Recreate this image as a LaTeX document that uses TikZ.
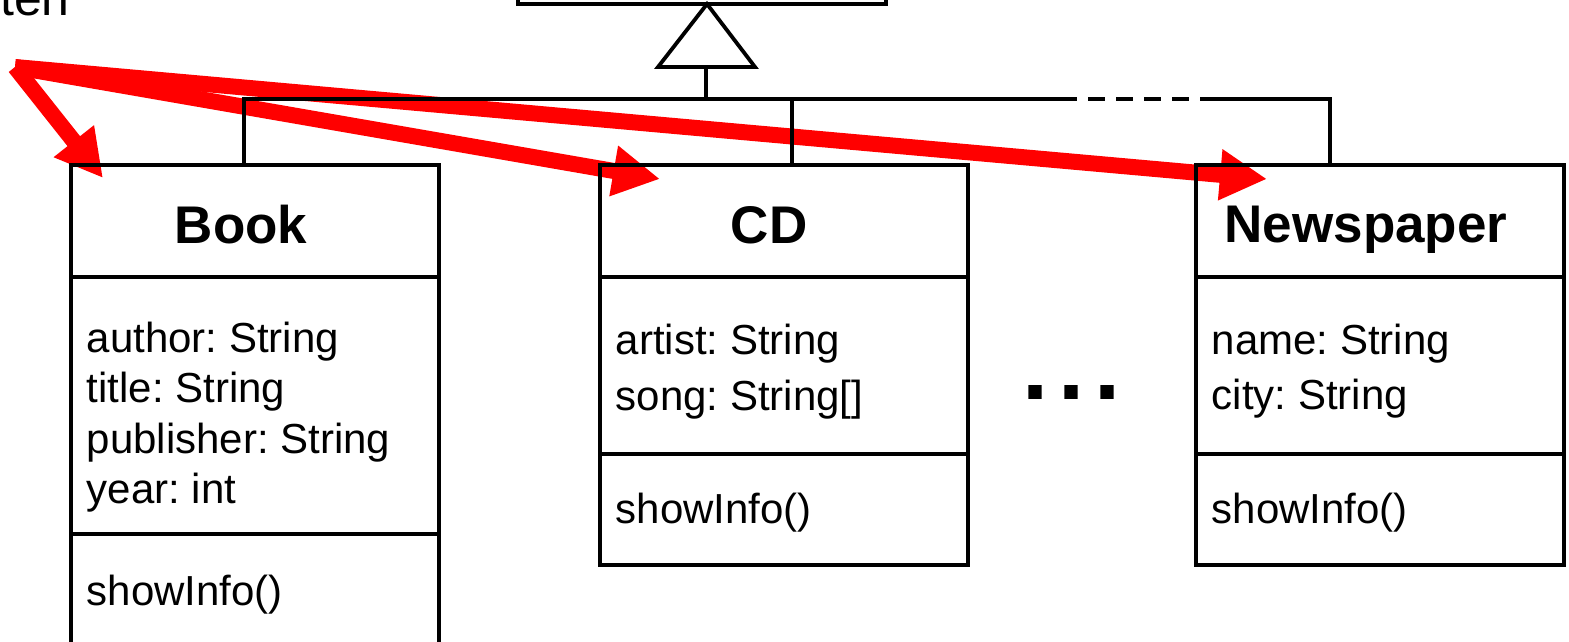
\documentclass[tikz,border=0pt]{standalone}
\usepackage{fontspec}
\setmainfont{Liberation Sans}
\usetikzlibrary{arrows.meta,calc}
\pgfdeclarelayer{pointers}
\pgfsetlayers{pointers,main}
\begin{document}
\frenchspacing
\begin{tikzpicture}[x=1pt,y=-1pt,
  compartment/.style={draw=black,line width=3.8pt,rectangle,inner sep=0pt,
    anchor=north west,minimum width=368pt},
  classname/.style={font=\bfseries\fontsize{53}{60}\selectfont,anchor=base,inner sep=0pt},
  member/.style={font=\fontsize{42}{50}\selectfont,anchor=base west,inner sep=0pt},
  tree/.style={draw=black,line width=3.8pt},
  treedash/.style={tree,dash pattern=on 17pt off 11pt},
  pointer/.style={draw=red,line width=16pt,-{Triangle[length=47pt,width=48pt]}},
  ellipsis/.style={font=\bfseries\fontsize{94}{100}\selectfont,anchor=base,inner sep=0pt}
]
\useasboundingbox (0,0) rectangle (1569,641);
\clip (0,0) rectangle (1569,641);

% superclass box (only its lower edge is in view)
\node[compartment,minimum height=80pt] (super) at (516,-78) {};

% Book
\node[compartment,minimum height=112pt] (bookT) at (69,163) {};
\node[compartment,minimum height=257pt] (bookA) at (69,275) {};
\node[compartment,minimum height=140pt] (bookO) at (69,532) {};
\node[classname] (bookN) at (241,243) {Book};
\node[member] (b1) at (86.5,352) {author: String};
\node[member] (b2) at (86.5,402) {title: String};
\node[member] (b3) at (86.5,453) {publisher: String};
\node[member] (b4) at (86.5,503) {year: int};
\node[member] (b5) at (86.5,605) {showInfo()};

% CD
\node[compartment,minimum height=112pt] (cdT) at (598,163) {};
\node[compartment,minimum height=177pt] (cdA) at (598,275) {};
\node[compartment,minimum height=111pt] (cdO) at (598,452) {};
\node[classname] (cdN) at (769,243) {CD};
\node[member] (c1) at (615.5,354) {artist: String};
\node[member] (c2) at (615.5,410) {song: String[]};
\node[member] (c3) at (615.5,523) {showInfo()};

% Newspaper
\node[compartment,minimum height=112pt] (newsT) at (1194,163) {};
\node[compartment,minimum height=177pt] (newsA) at (1194,275) {};
\node[compartment,minimum height=111pt] (newsO) at (1194,452) {};
\node[classname] (newsN) at (1366,242) {Newspaper};
\node[member] (n1) at (1211.5,354) {name: String};
\node[member] (n2) at (1211.5,409) {city: String};
\node[member] (n3) at (1211.5,523) {showInfo()};

% further subclasses
\node[ellipsis] (more) at (1071.5,399) {.\hspace{10pt}.\hspace{10pt}.};

% generalization tree
\coordinate (apex) at (707,4);
\coordinate (base) at (706,67);
\coordinate (hub) at (706,99);
\coordinate (dashL) at (1060,99);
\coordinate (dashR) at (1210,99);
\draw[tree,fill=white,line join=miter] (apex) -- (658,67) -- (755,67) -- cycle;
\draw[tree] (base) -- (hub);
\draw[tree] ($(bookT.north west)+(175,0)$) |- (dashL);
\draw[tree] ($(cdT.north west)+(194,0)$) -- ($(cdT.north west)+(194,-64)$);
\draw[treedash] (dashL) -- (dashR);
\draw[tree] (dashR) -| ($(newsT.north west)+(136,0)$);

% label and red pointers (kept underneath the class outlines)
\node[font=\fontsize{50}{56}\selectfont,anchor=base east,inner sep=0pt] (lbl) at (70,15) {ten};
\coordinate (src) at (15,67);
\begin{pgfonlayer}{pointers}
\draw[pointer] (src) -- ($(bookT.north west)+(34,15)$);
\draw[pointer] (src) -- ($(cdT.north west)+(62,16)$);
\draw[pointer] (src) -- ($(newsT.north west)+(73,16)$);
\end{pgfonlayer}
\end{tikzpicture}
\end{document}
